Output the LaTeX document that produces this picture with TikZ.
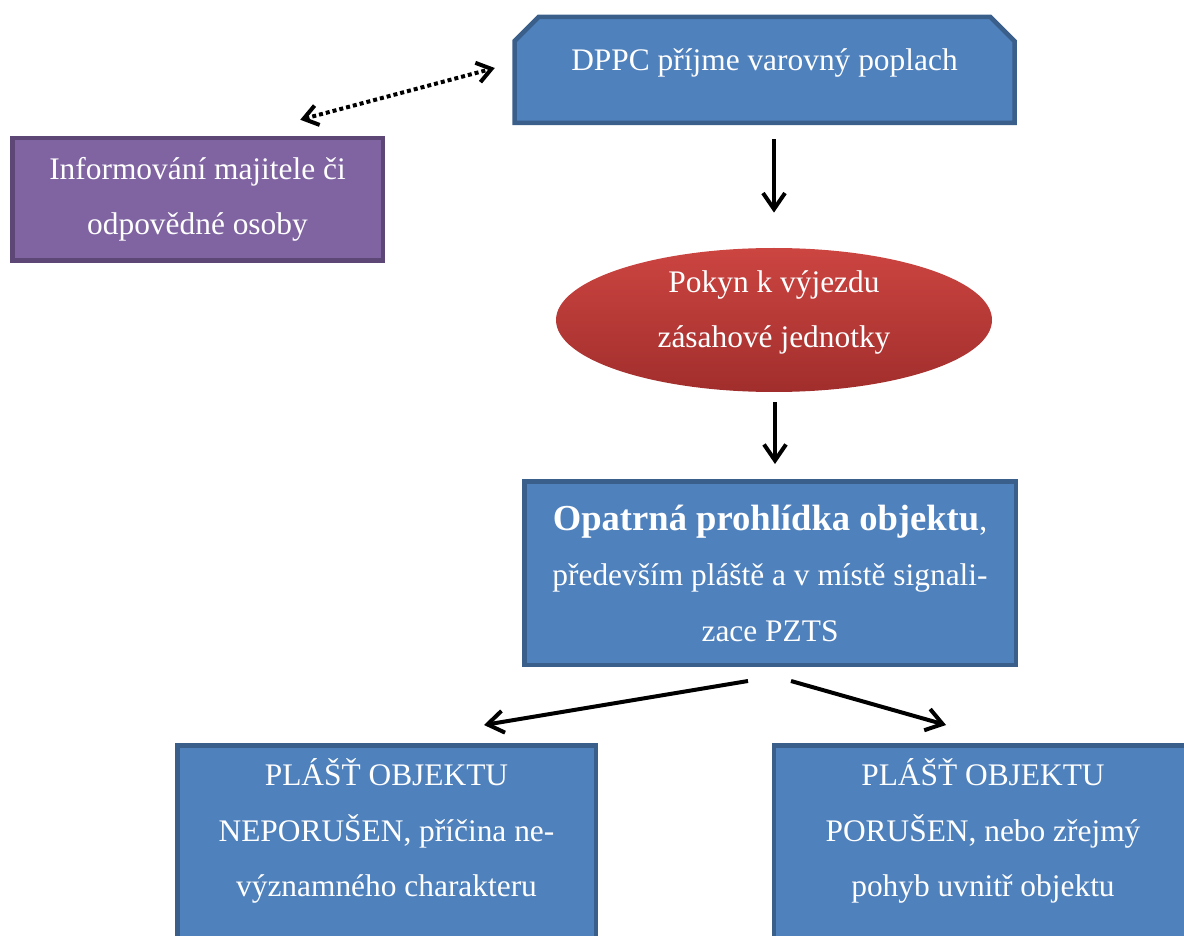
\documentclass[tikz,border=0pt]{standalone}
\usepackage{fontspec}
\setmainfont{Liberation Serif}
\usetikzlibrary{positioning,shapes.geometric,shapes.misc,arrows.meta,calc}

\definecolor{boxblue}{HTML}{4F81BD}
\definecolor{edgeblue}{HTML}{3A5F8B}
\definecolor{boxpurple}{HTML}{8064A2}
\definecolor{edgepurple}{HTML}{5C4776}
\definecolor{redtop}{HTML}{CC4541}
\definecolor{redbottom}{HTML}{A12E2C}
\newcommand\dropby[1]{\rule[-#1]{0pt}{#1}}

\begin{document}
\begin{tikzpicture}[x=0.5pt, y=-0.5pt,
  txt/.style={text=white, align=center, font=\fontsize{15.7}{27.75}\selectfont},
  bluebox/.style={txt, draw=edgeblue, fill=boxblue, line width=2.25pt, inner sep=0pt},
  purplebox/.style={txt, draw=edgepurple, fill=boxpurple, line width=2.25pt, inner sep=0pt},
  arr/.style={line width=2pt, -{Straight Barb[length=8pt, width=11pt]}},
  dotarr/.style={line width=2pt, dash pattern=on 2pt off 1.5pt,
    {Straight Barb[length=7pt, width=10pt]}-{Straight Barb[length=7pt, width=10pt]}}]
\useasboundingbox (0,0) rectangle (1184,936);

\node[bluebox, chamfered rectangle, chamfered rectangle corners={north west, north east},
  chamfered rectangle xsep=9pt, minimum width=250pt, minimum height=53pt]
  (dppc) at (764.5,70) {DPPC příjme varovný poplach\dropby{10.75pt}};
\node[purplebox, minimum width=185.25pt, minimum height=61.25pt]
  (info) at (197.5,199.5) {Informování majitele či\\odpovědné osoby};
\node[txt, ellipse, top color=redtop, bottom color=redbottom, inner sep=0pt,
  minimum width=218pt, minimum height=72pt]
  (pokyn) at (774,320) {Pokyn k výjezdu\\zásahové jednotky\dropby{11pt}};
\node[bluebox, minimum width=245.75pt, minimum height=91.75pt] (opatrna) at (770,573)
  {{\fontsize{18.3}{27.75}\selectfont\bfseries Opatrná prohlídka objektu},\\
   především pláště a v místě signali-\\zace PZTS};
\node[bluebox, minimum width=209.25pt, minimum height=116.25pt] (neporusen) at (386.5,861.5)
  {PLÁŠŤ OBJEKTU\\NEPORUŠEN, příčina ne-\\významného charakteru\dropby{33.5pt}};
\node[bluebox, minimum width=209.25pt, minimum height=116.25pt] (porusen) at (983,861.5)
  {PLÁŠŤ OBJEKTU\\PORUŠEN, nebo zřejmý\\pohyb uvnitř objektu\dropby{33.5pt}};

\draw[dotarr] ($(info.north east)+(-84.75,-16.25)$) -- ($(dppc.west)+(-17.5,-2)$);
\draw[arr] ($(dppc.south -| pokyn.north)+(0,14)$) -- ($(pokyn.north)+(0,-35)$);
\draw[arr] ($(pokyn.south)+(1,10)$) -- ($(pokyn.south |- opatrna.north)+(1,-15)$);
\draw[arr] ($(opatrna.south)+(-22,14)$) -- ($(neporusen.north)+(97.5,-18)$);
\draw[arr] ($(opatrna.south)+(21,14)$) -- ($(porusen.north)+(-37,-18)$);

\end{tikzpicture}
\end{document}
